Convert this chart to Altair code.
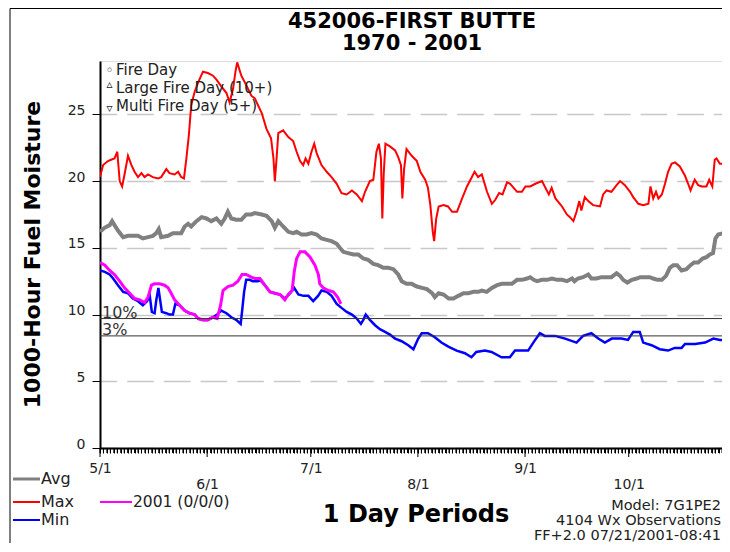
import altair as alt
import pandas as pd

# ---------------- data ----------------
max_day = [0, 0.9, 2.3, 3.2, 4.2, 5.0, 5.7, 6.4, 7.1, 8.1, 9.1, 10.0, 11.0, 12.0, 12.9, 13.9, 15.3, 16.8, 17.7, 19.2,
           20.1, 21.6, 22.6, 23.5, 24.3, 25.0, 25.7, 26.4, 27.4, 28.4, 29.8, 31.2, 32.7, 33.7, 35.1, 36.6, 37.5, 38.5,
           39.2, 39.7, 40.9, 42.3, 43.8, 44.8, 46.8, 48.2, 49.5, 50.2, 50.6, 51.1, 51.6, 53.0, 54.5, 55.9, 56.9, 57.9,
           58.8, 59.5, 60.3, 61.2, 62.0, 62.7, 64.1, 65.6, 67.0, 68.5, 69.9, 71.4, 72.9, 74.3, 75.8, 76.7, 78.1, 79.1,
           80.0, 80.7, 81.3, 81.7, 82.1, 82.6, 83.9, 85.4, 86.3, 87.1, 87.5, 88.0, 88.7, 90.2, 91.7, 92.7, 94.1, 94.9,
           95.6, 96.3, 96.7, 97.3, 98.0, 99.4, 100.7, 101.9, 103.3, 104.8, 106.2, 107.4, 108.4, 109.4, 110.5, 112.0,
           113.4, 114.4, 115.5, 116.5, 117.8, 118.7, 120.7, 122.1, 123.1, 124.5, 126.0, 127.9, 128.9, 129.9, 130.7,
           131.8, 133.7, 135.1, 136.0, 137.0, 137.9, 138.7, 139.3, 140.3, 141.3, 142.7, 144.7, 145.6, 146.6, 148.0,
           149.5, 150.5, 151.9, 153.4, 154.3, 155.8, 157.2, 158.7, 159.3, 160.1, 160.9, 161.6, 162.6, 163.5, 164.4,
           165.4, 166.4, 167.8, 169.3, 170.2, 170.9, 172.1, 173.1, 174.1, 175.5, 176.3, 177.2, 177.9, 178.4, 179.4,
           180.8, 182.3]
max_val = [20.3, 21.2, 21.5, 21.6, 21.7, 22.2, 20.0, 19.6, 20.5, 21.9, 21.2, 20.7, 20.3, 20.6, 20.3, 20.5, 20.3, 20.2,
           20.3, 20.9, 20.6, 20.5, 20.7, 20.3, 20.2, 21.7, 23.4, 25.7, 26.7, 27.4, 28.2, 28.1, 27.9, 27.6, 27.1, 26.6,
           25.9, 26.9, 28.2, 28.9, 27.9, 27.2, 26.4, 26.2, 25.1, 23.9, 23.2, 21.7, 20.0, 21.7, 23.6, 23.8, 23.3, 23.0,
           22.2, 21.5, 21.2, 21.7, 21.3, 22.2, 22.8, 22.1, 21.2, 20.7, 20.3, 19.8, 19.1, 19.0, 19.3, 19.0, 18.5, 19.2,
           20.0, 20.1, 22.2, 22.8, 21.7, 17.2, 20.5, 22.8, 22.6, 22.3, 21.8, 21.2, 18.7, 20.9, 22.4, 21.9, 21.5, 20.7,
           20.1, 19.5, 18.2, 16.2, 15.5, 17.2, 18.1, 18.2, 18.1, 17.7, 17.7, 18.7, 19.6, 20.2, 20.7, 20.3, 20.5, 19.2,
           18.3, 18.6, 19.1, 19.0, 19.9, 19.8, 19.2, 19.2, 19.6, 19.6, 19.8, 20.0, 19.5, 19.0, 19.5, 18.7, 18.1, 17.5,
           17.3, 17.0, 17.7, 18.5, 17.8, 18.8, 18.5, 18.2, 18.1, 19.0, 19.3, 19.2, 19.7, 20.0, 19.7, 19.2, 18.8, 18.3,
           18.2, 18.3, 19.6, 18.7, 19.2, 18.7, 19.0, 19.8, 20.7, 21.3, 21.4, 21.1, 20.4, 19.8, 19.3, 20.1, 19.7, 19.6,
           19.6, 20.1, 19.6, 21.6, 21.7, 21.3, 21.3, 21.7]

avg_day = [0, 1.3, 2.8, 3.5, 4.2, 5.2, 6.7, 8.1, 9.6, 11.0, 12.4, 13.9, 15.3, 16.3, 17.0, 17.7, 19.7, 21.1, 22.6, 23.5,
           24.5, 25.5, 26.4, 27.9, 29.4, 30.8, 32.2, 33.7, 35.1, 36.1, 37.0, 38.0, 39.4, 40.9, 42.3, 43.8, 44.8, 46.8,
           48.2, 49.7, 50.6, 51.6, 53.0, 54.5, 55.9, 56.9, 58.3, 59.8, 61.2, 62.7, 64.1, 65.6, 67.0, 68.5, 69.4, 70.4,
           71.8, 73.3, 74.7, 76.2, 77.6, 79.1, 80.5, 82.0, 83.4, 84.9, 86.3, 87.3, 88.7, 90.2, 91.7, 93.2, 94.6, 96.1,
           96.9, 98.0, 99.4, 100.9, 102.3, 103.7, 105.2, 106.6, 108.1, 109.5, 110.5, 111.9, 113.4, 114.9, 116.3, 117.8,
           119.2, 120.7, 122.1, 123.6, 124.5, 125.5, 126.5, 127.9, 129.4, 130.8, 132.3, 133.7, 135.1, 136.6, 137.3,
           138.3, 139.8, 141.3, 142.2, 143.7, 145.1, 146.6, 148.0, 149.5, 150.5, 151.4, 152.6, 153.9, 155.3, 156.3,
           157.7, 159.1, 160.1, 161.3, 162.6, 163.8, 164.9, 165.9, 167.0, 168.3, 169.7, 170.9, 171.9, 173.1, 174.4,
           175.5, 176.5, 177.4, 178.1, 178.9, 180.4, 181.9]
avg_val = [16.2, 16.5, 16.7, 17.0, 16.7, 16.3, 15.8, 15.9, 15.9, 15.9, 15.7, 15.8, 15.9, 16.1, 16.4, 15.8, 15.9, 16.1,
           16.1, 16.1, 16.6, 16.8, 16.6, 17.0, 17.3, 17.2, 17.0, 17.2, 16.8, 17.2, 17.7, 17.2, 17.1, 17.1, 17.5, 17.5,
           17.6, 17.5, 17.4, 17.0, 16.5, 17.0, 16.6, 16.2, 16.1, 16.2, 16.0, 16.0, 16.1, 16.0, 15.7, 15.6, 15.5, 15.3,
           15.0, 14.7, 14.6, 14.5, 14.5, 14.2, 14.1, 13.8, 13.7, 13.5, 13.5, 13.4, 13.0, 12.5, 12.3, 12.3, 12.1, 12.0,
           11.9, 11.6, 11.3, 11.6, 11.5, 11.2, 11.2, 11.4, 11.6, 11.6, 11.7, 11.7, 11.8, 11.7, 12.0, 12.2, 12.3, 12.3,
           12.3, 12.6, 12.6, 12.7, 12.8, 12.6, 12.5, 12.6, 12.6, 12.7, 12.6, 12.6, 12.5, 12.7, 12.5, 12.7, 12.8, 13.0,
           12.7, 12.7, 12.8, 12.8, 12.8, 13.1, 12.9, 12.6, 12.4, 12.6, 12.7, 12.8, 12.8, 12.8, 12.7, 12.6, 12.6, 12.9,
           13.5, 13.7, 13.7, 13.3, 13.4, 13.7, 13.9, 13.9, 14.2, 14.3, 14.5, 14.6, 15.7, 16.0, 16.1, 16.4]

min_day = [0, 1.4, 2.8, 3.8, 5.2, 6.7, 8.1, 9.5, 11.0, 12.4, 13.6, 14.4, 15.0, 15.8, 16.3, 16.9, 17.4, 17.9, 19.2, 20.1,
           21.1, 21.8, 23.0, 24.5, 25.9, 27.4, 28.4, 29.8, 31.2, 32.7, 33.9, 35.1, 36.6, 38.0, 39.4, 40.7, 41.1, 41.7,
           42.3, 43.3, 44.2, 45.7, 46.3, 47.7, 49.2, 50.6, 52.1, 53.5, 55.0, 56.2, 57.4, 58.9, 60.3, 61.7, 63.1, 64.1,
           65.6, 67.0, 68.5, 69.9, 71.4, 72.9, 74.3, 75.5, 76.2, 76.9, 78.1, 79.6, 81.0, 82.5, 83.9, 85.4, 87.3, 89.2,
           90.7, 92.1, 93.1, 94.9, 96.9, 98.8, 100.8, 103.2, 105.6, 107.5, 108.9, 111.4, 113.3, 116.2, 118.6, 120.1,
           123.9, 125.4, 127.3, 128.7, 131.7, 134.6, 137.9, 139.8, 142.2, 144.2, 146.1, 148.1, 150.9, 152.8, 154.3,
           156.2, 157.2, 159.6, 162.0, 164.4, 166.3, 168.3, 169.3, 172.2, 175.1, 177.5, 179.4, 181.3, 182.0]
min_val = [13.3, 13.2, 13.0, 12.7, 12.2, 11.7, 11.6, 11.2, 11.0, 10.7, 11.0, 11.4, 10.2, 10.1, 11.1, 12.0, 11.1, 10.2,
           10.1, 10.0, 10.0, 10.8, 10.7, 10.3, 10.1, 10.0, 9.7, 9.6, 9.6, 9.8, 10.0, 10.3, 10.1, 9.8, 9.6, 9.3, 10.2,
           11.7, 12.6, 12.6, 12.5, 12.5, 12.6, 12.2, 11.7, 11.6, 11.5, 11.2, 11.6, 12.0, 11.5, 11.4, 11.4, 11.0, 11.4,
           11.8, 11.7, 11.4, 10.8, 10.5, 10.2, 10.0, 9.7, 9.3, 9.6, 10.0, 9.6, 9.2, 8.9, 8.7, 8.5, 8.2, 8.0, 7.7, 7.4,
           8.2, 8.6, 8.6, 8.3, 7.9, 7.6, 7.3, 7.1, 6.8, 7.2, 7.3, 7.2, 6.8, 6.8, 7.3, 7.3, 7.9, 8.6, 8.4, 8.4, 8.2, 7.9,
           8.4, 8.6, 8.2, 7.9, 8.2, 8.2, 8.1, 8.7, 8.7, 7.9, 7.7, 7.4, 7.3, 7.5, 7.5, 7.8, 7.8, 7.9, 8.2, 8.1, 8.1, 9.3]

yr2001_day = [0, 1.4, 2.8, 4.2, 5.7, 7.1, 8.6, 10.0, 11.5, 12.9, 13.9, 14.9, 15.8, 17.2, 18.7, 19.7, 20.6, 21.6, 23.0,
              24.5, 25.9, 27.4, 28.4, 29.8, 31.2, 32.7, 33.9, 34.9, 35.6, 37.0, 38.5, 39.9, 41.1, 42.3, 43.8, 44.8,
              46.3, 47.7, 49.2, 50.6, 52.1, 53.5, 54.5, 55.6, 56.2, 56.9, 57.9, 59.3, 60.8, 62.2, 63.2, 63.6, 64.6,
              66.1, 67.5, 68.8, 69.7]
yr2001_val = [13.9, 13.7, 13.3, 13.0, 12.5, 12.0, 11.6, 11.2, 11.1, 10.9, 11.3, 12.2, 12.3, 12.3, 12.2, 12.0, 11.6,
              11.1, 10.7, 10.3, 10.1, 10.0, 9.7, 9.6, 9.6, 9.8, 9.7, 10.7, 11.8, 12.1, 12.2, 12.5, 13.0, 13.0, 12.8,
              12.7, 12.7, 12.2, 11.7, 11.6, 11.5, 11.1, 11.5, 11.8, 13.2, 14.2, 14.7, 14.7, 14.3, 13.7, 13.0, 12.3,
              12.0, 11.8, 11.7, 11.3, 10.8]

tick_days = [0, 31, 61, 92, 123, 153]
tick_labels = ["5/1", "6/1", "7/1", "8/1", "9/1", "10/1"]
day_ticks = list(range(0, 181))
y_ticks = [0, 5, 10, 15, 20, 25]
ref_values = [9.7, 8.4]
ref_labels = ["10%", "3%"]
fire_legend = ["Fire Day", "Large Fire Day (10+)", "Multi Fire Day (5+)"]
fire_symbols = ["\u25e6", "\u25b5", "\u25bf"]
series_names = ["Avg", "Max", "Min", "2001 (0/0/0)"]
series_colors = ["#808080", "#ff0000", "#0000ff", "#ff00ff"]
title_lines = ["452006-FIRST BUTTE", "1970 - 2001"]
x_title = "1 Day Periods"
y_title = "1000-Hour Fuel Moisture"
footer_lines = ["Model: 7G1PE2", "4104 Wx Observations", "FF+2.0 07/21/2001-08:41"]

# ---------------- layout ----------------
W, H = 622, 387
FONT = "DejaVu Sans"
xs = alt.Scale(domain=[0, 180], nice=False, zero=False)
ys = alt.Scale(domain=[0, 29], nice=False, zero=True)

label_expr = "".join(f"datum.value == {d} ? '{l}' : " for d, l in zip(tick_days, tick_labels)) + "''"
lower_row = tick_days[1::2]
lower_test = f"indexof({lower_row}, datum.value) >= 0"

x_axis = alt.Axis(
    values=day_ticks, labelExpr=label_expr, labelOverlap=False, labelFlush=False,
    tickSize=5, tickColor="black", tickWidth=1, domainColor="black", domainWidth=2,
    labelFont=FONT, labelFontSize=14, labelColor="#222222", labelBaseline="top",
    labelPadding={"condition": {"test": lower_test, "value": 24}, "value": 8},
    grid=False, title=None,
)
y_axis = alt.Axis(
    values=y_ticks, tickSize=8, tickColor="black", tickWidth=1, domainColor="black", domainWidth=2,
    labelFont=FONT, labelFontSize=14, labelColor="#222222", labelPadding=7, labelBaseline="alphabetic",
    grid=True, gridColor="#c8c8c8", gridDash=[26.67, 10], gridDashOffset=10, gridWidth=1.5, title=None,
)
X = alt.X("day:Q", scale=xs, axis=x_axis)
Y = alt.Y("v:Q", scale=ys, axis=y_axis)


def series(days, vals, color, width):
    df = pd.DataFrame({"day": days, "v": vals})
    return alt.Chart(df).mark_line(color=color, strokeWidth=width, clip=True).encode(x=X, y=Y)


one = alt.Data(values=[{}])


def txt(text, x, y, size=16, align="left", baseline="alphabetic", weight="normal", color="#222222", angle=0,
        font=FONT):
    kw = dict(text=text, align=align, baseline=baseline, fontSize=size, fontWeight=weight, color=color, font=font)
    if angle:
        kw["angle"] = angle
    return alt.Chart(one).mark_text(**kw).encode(x=alt.value(x), y=alt.value(y))


def seg(x1, x2, y, color, width):
    return alt.Chart(one).mark_rule(color=color, strokeWidth=width).encode(
        x=alt.value(x1), x2=alt.value(x2), y=alt.value(y))


layers = []
layers.append(series(avg_day, avg_val, series_colors[0], 4))
layers.append(series(max_day, max_val, series_colors[1], 2))
layers.append(series(min_day, min_val, series_colors[2], 2.5))
layers.append(series(yr2001_day, yr2001_val, series_colors[3], 3))

# daily ticks and longer ticks at the month starts
minor_df = pd.DataFrame({"day": day_ticks})
layers.append(alt.Chart(minor_df).mark_rule(color="black", strokeWidth=1).encode(
    x=X, y=alt.value(H), y2=alt.value(H + 5)))
major_df = pd.DataFrame({"day": tick_days})
layers.append(alt.Chart(major_df).mark_rule(color="black", strokeWidth=1).encode(
    x=X, y=alt.value(H), y2=alt.value(H + 9)))

ref_df = pd.DataFrame({"v": ref_values, "l": ref_labels})
layers.append(alt.Chart(ref_df).mark_rule(color="#333333", strokeWidth=1).encode(y=Y))
layers.append(alt.Chart(ref_df).mark_text(align="left", baseline="alphabetic", dy=-1, fontSize=16, font=FONT,
                                           color="#333333").encode(
    x=alt.value(2), y=Y, text="l:N"))

# fire-day legend (top-left inside plot)
fire_base = [14.3, 32.3, 50.0]
sym_y = [10, 23, 47]
sym_size = [14, 12, 12]
for s, t, yb, sy, ss in zip(fire_symbols, fire_legend, fire_base, sym_y, sym_size):
    layers.append(txt(s, 9.5, sy, size=ss, align="center", baseline="middle"))
    layers.append(txt(t, 16, yb, size=15))

# titles
layers.append(txt(title_lines[0], 312, -33, size=21, align="center", weight="bold", color="black"))
layers.append(txt(title_lines[1], 312, -11, size=21, align="center", weight="bold", color="black"))
layers.append(txt(y_title, -67, H / 2, size=22, align="center", baseline="middle", weight="bold", color="black",
                  angle=270))
layers.append(txt(x_title, 316, 461, size=24, align="center", weight="bold", color="black"))

# series legend (bottom-left)
leg_pos = [(-87, -60, 418), (-87, -60, 441), (-87, -60, 459), (0, 32, 441)]
for name, col, (x1, x2, yy) in zip(series_names, series_colors, leg_pos):
    layers.append(seg(x1, x2, yy, col, 3 if name == "Avg" else 2))
    layers.append(txt(name, x2 + 1, yy, size=16 if name != series_names[3] else 15.5, baseline="middle"))

# footer (bottom-right)
for line, yb in zip(footer_lines, [449, 464, 478.5]):
    layers.append(txt(line, 621, yb, size=14.5, align="right"))

# outer frame
layers.append(alt.Chart(one).mark_rule(color="black", strokeWidth=1).encode(
    x=alt.value(-90), y=alt.value(-52.5), y2=alt.value(H + 120)))
layers.append(seg(-90, W + 10, -52.5, "black", 1))

chart = alt.layer(*layers).properties(
    width=W, height=H,
    autosize=alt.AutoSizeParams(type="none"),
    padding={"left": 92, "top": 53, "right": 0, "bottom": 95},
).configure_view(stroke=None).configure(background="white")

chart.save("out.html", embed_options={"renderer": "svg", "actions": False})
